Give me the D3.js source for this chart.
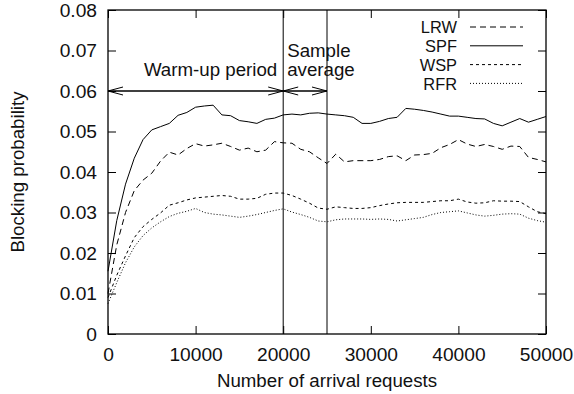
<!DOCTYPE html>
<html>
<head>
<meta charset="utf-8">
<script src="https://cdn.jsdelivr.net/npm/d3@7"></script>
<style>
  html, body { margin: 0; padding: 0; background: #fff; }
  svg { display: block; }
  text { font-family: "Liberation Sans", Arial, Helvetica, sans-serif; fill: #111; }
</style>
</head>
<body>
<svg id="chart" width="574" height="394"></svg>
<script>
// ---- data ----
const xValues = d3.range(0, 50001, 1000);
const LRW = [0.010,0.022,0.030,0.0354,0.038,0.0397,0.0427,0.0449,0.0442,0.0458,0.047,
  0.0464,0.0467,0.0471,0.0463,0.0454,0.0459,0.045,0.0454,0.0475,0.0472,
  0.0471,0.0456,0.045,0.0435,0.0421,0.0444,0.0425,0.0428,0.0428,0.0428,
  0.0431,0.0438,0.044,0.0428,0.0442,0.0443,0.0446,0.046,0.0468,0.048,
  0.0469,0.0463,0.0468,0.0463,0.0456,0.0464,0.0463,0.0436,0.0431,0.0425];
const SPF = [0.0155,0.028,0.037,0.0434,0.048,0.0504,0.0512,0.052,0.054,0.0547,0.056,
  0.0563,0.0565,0.0541,0.0539,0.0527,0.0524,0.052,0.053,0.0533,0.0541,
  0.0543,0.0541,0.0545,0.0546,0.0543,0.0541,0.0539,0.0535,0.052,0.052,
  0.0525,0.0532,0.0535,0.0557,0.0555,0.0552,0.0548,0.0543,0.0538,0.0538,
  0.0535,0.0532,0.0531,0.052,0.0514,0.0523,0.0532,0.0523,0.053,0.0537];
const WSP = [0.009,0.0145,0.0193,0.0238,0.0265,0.0283,0.0299,0.0318,0.0324,0.0331,0.0336,
  0.0338,0.034,0.0342,0.034,0.0333,0.0333,0.0335,0.0345,0.0348,0.0348,
  0.0342,0.0333,0.0323,0.0311,0.0308,0.0314,0.0312,0.031,0.031,0.0312,
  0.0317,0.0321,0.0324,0.0325,0.0325,0.0325,0.0327,0.0329,0.0329,0.0333,
  0.0326,0.0323,0.0324,0.0329,0.0328,0.0328,0.0327,0.0314,0.0302,0.0297];
const RFR = [0.0075,0.0127,0.0176,0.0215,0.0243,0.0262,0.0277,0.029,0.0298,0.0303,0.031,
  0.030,0.0296,0.0294,0.0291,0.0288,0.0291,0.0295,0.030,0.0305,0.0309,
  0.0301,0.0295,0.0288,0.0279,0.0277,0.0282,0.0284,0.0284,0.0284,0.0283,
  0.0284,0.0283,0.0279,0.0282,0.0285,0.0288,0.0295,0.030,0.0302,0.0304,
  0.0299,0.0294,0.0291,0.0293,0.0296,0.0297,0.0296,0.0286,0.028,0.0276];
const seriesNames = ["LRW", "SPF", "WSP", "RFR"];
const xTicks = [0, 10000, 20000, 30000, 40000, 50000];
const xTickLabels = ["0", "10000", "20000", "30000", "40000", "50000"];
const yTicks = [0, 0.01, 0.02, 0.03, 0.04, 0.05, 0.06, 0.07, 0.08];
const yTickLabels = ["0", "0.01", "0.02", "0.03", "0.04", "0.05", "0.06", "0.07", "0.08"];
const markerX = [20000, 25000];
const arrowY = 0.06;
const annotations = ["Warm-up period", "Sample", "average"];

// ---- layout ----
const L = 108, R = 546, T = 10, B = 334;
const FS = 18.7, FT = 19.2, FL = 16.4;
const svg = d3.select("#chart");
svg.append("rect").attr("width", 574).attr("height", 394).attr("fill", "#fff");

const x = d3.scaleLinear().domain([0, 50000]).range([L, R]);
const y = d3.scaleLinear().domain([0, 0.08]).range([B, T]);

const fmtX = (d) => xTickLabels[xTicks.indexOf(d)];
const fmtY = (d) => yTickLabels[yTicks.indexOf(d)];

function styleAxis(g) {
  g.select(".domain").remove();
  g.selectAll(".tick line").attr("stroke", "#000").attr("stroke-width", 1);
  g.selectAll("text").attr("font-size", FT).attr("fill", "#111")
    .attr("font-family", '"Liberation Sans", Arial, sans-serif');
}

svg.append("g").attr("transform", `translate(0,${B})`)
  .call(d3.axisBottom(x).tickValues(xTicks).tickFormat(fmtX).tickSizeInner(-8).tickSizeOuter(0).tickPadding(13))
  .call(styleAxis);
svg.append("g").attr("transform", `translate(0,${T})`)
  .call(d3.axisTop(x).tickValues(xTicks).tickFormat("").tickSizeInner(-8).tickSizeOuter(0))
  .call(styleAxis);
svg.append("g").attr("transform", `translate(${L},0)`)
  .call(d3.axisLeft(y).tickValues(yTicks).tickFormat(fmtY).tickSizeInner(-8).tickSizeOuter(0).tickPadding(11))
  .call(styleAxis);
svg.append("g").attr("transform", `translate(${R},0)`)
  .call(d3.axisRight(y).tickValues(yTicks).tickFormat("").tickSizeInner(-8).tickSizeOuter(0))
  .call(styleAxis);

// frame
svg.append("rect").attr("x", L).attr("y", T).attr("width", R - L).attr("height", B - T)
  .attr("fill", "none").attr("stroke", "#000").attr("stroke-width", 1.3);

// vertical markers
svg.selectAll(".vmark").data(markerX).enter().append("line")
  .attr("x1", d => x(d)).attr("x2", d => x(d)).attr("y1", T).attr("y2", B)
  .attr("stroke", "#000").attr("stroke-width", 1);

// arrows
function arrowHead(xTip, yy, dir) {
  const len = 15, h = 4;
  svg.append("path")
    .attr("d", `M${xTip - dir * len},${yy - h}L${xTip},${yy}L${xTip - dir * len},${yy + h}`)
    .attr("fill", "none").attr("stroke", "#000").attr("stroke-width", 1);
}
const ay = y(arrowY);
const spans = [[0, markerX[0]], [markerX[0], markerX[1]]];
spans.forEach(([a, b]) => {
  svg.append("line").attr("x1", x(a)).attr("x2", x(b)).attr("y1", ay).attr("y2", ay)
    .attr("stroke", "#000").attr("stroke-width", 1.6);
  arrowHead(x(a), ay, -1);
  arrowHead(x(b), ay, 1);
});

svg.append("text").attr("x", x(markerX[0]) - 6).attr("y", 76)
  .attr("text-anchor", "end").attr("font-size", FS).text(annotations[0]);
svg.append("text").attr("x", x(markerX[0]) + 4).attr("y", 56.5)
  .attr("font-size", FS).text(annotations[1]);
svg.append("text").attr("x", x(markerX[0]) + 4).attr("y", 76)
  .attr("font-size", FS).text(annotations[2]);

// series
const dashes = { LRW: "6,4", SPF: null, WSP: "3,3", RFR: "1,2" };
const dataMap = { LRW, SPF, WSP, RFR };
const line = d3.line().x((d, i) => x(xValues[i])).y(d => y(d));
seriesNames.forEach(name => {
  svg.append("path").datum(dataMap[name])
    .attr("d", line).attr("fill", "none").attr("stroke", "#000")
    .attr("stroke-width", 1).attr("stroke-dasharray", dashes[name]);
});

// legend
seriesNames.forEach((name, i) => {
  const by = 33.3 + i * 18.8;
  svg.append("text").attr("x", 457).attr("y", by).attr("text-anchor", "end")
    .attr("font-size", FL).text(name);
  svg.append("line").attr("x1", 470).attr("x2", 523).attr("y1", by - 6.3).attr("y2", by - 6.3)
    .attr("stroke", "#000").attr("stroke-width", 1).attr("stroke-dasharray", dashes[name]);
});

// axis titles
svg.append("text").attr("x", x(25000)).attr("y", 387).attr("text-anchor", "middle")
  .attr("font-size", FS).text("Number of arrival requests");
svg.append("text").attr("transform", `translate(24,172) rotate(-90)`)
  .attr("text-anchor", "middle").attr("font-size", FS).text("Blocking probability");
</script>
</body>
</html>
